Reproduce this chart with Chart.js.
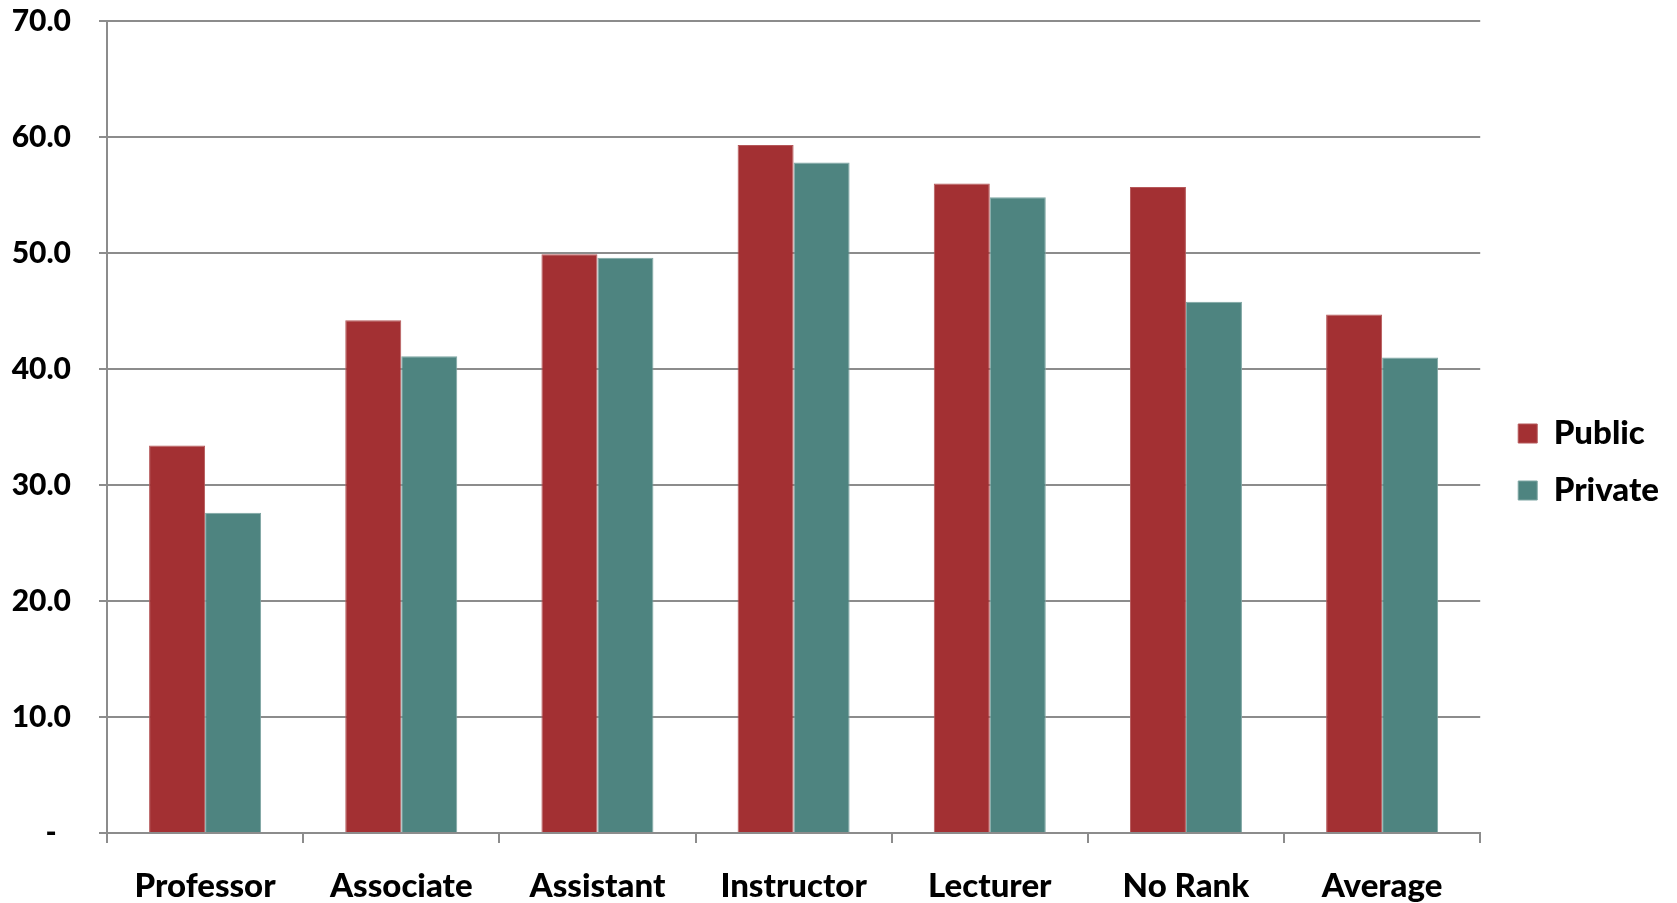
<!DOCTYPE html>
<html>
<head>
<meta charset="utf-8">
<script src="https://cdn.jsdelivr.net/npm/chart.js@4.4.1/dist/chart.umd.min.js"></script>
<style>
  html, body { margin: 0; padding: 0; background: #fff; }
  #wrap { width: 1677px; height: 903px; }
</style>
</head>
<body>
<div id="wrap"><canvas id="chart" width="1677" height="903"></canvas></div>
<script>
// data
const categories = ['Professor', 'Associate', 'Assistant', 'Instructor', 'Lecturer', 'No Rank', 'Average'];
const publicVals = [33.4, 44.2, 49.9, 59.3, 56.0, 55.7, 44.7];
const privateVals = [27.6, 41.1, 49.6, 57.8, 54.8, 45.8, 41.0];
const yTicks = [0, 10, 20, 30, 40, 50, 60, 70];

const FAMILY = 'Lato, "Open Sans", sans-serif';
const GRID = '#8c8c8c';

// widen the legend box so the plot ends where the reference does,
// then nudge the legend items to the right
const legendGap = {
  id: 'legendGap',
  beforeUpdate(chart) {
    const lg = chart.legend;
    if (lg && !lg._widened) {
      const fit = lg.fit.bind(lg);
      lg.fit = function () { fit(); this.width += 12; };
      lg._widened = true;
    }
  },
  afterLayout(chart) {
    const lg = chart.legend;
    if (lg) { lg.left += 14; lg.right += 14; }
  }
};

new Chart(document.getElementById('chart'), {
  type: 'bar',
  data: {
    labels: categories,
    datasets: [
      { label: 'Public', data: publicVals, backgroundColor: '#a33033', borderColor: '#b5585a', borderWidth: 1 },
      { label: 'Private', data: privateVals, backgroundColor: '#4e8480', borderColor: '#7ea6a3', borderWidth: 1 }
    ]
  },
  options: {
    responsive: false,
    animation: false,
    datasets: { bar: { barPercentage: 1.0, categoryPercentage: 0.571 } },
    layout: { padding: { top: 21, right: 10, left: 0, bottom: 0 } },
    scales: {
      x: {
        grid: { drawOnChartArea: false, drawTicks: true, tickLength: 10, color: GRID, lineWidth: 2 },
        border: { color: GRID, width: 2 },
        ticks: { color: '#000', font: { family: FAMILY, size: 33, weight: 900 }, padding: 24 },
        afterFit(s) { s.height = 70; }
      },
      y: {
        min: 0, max: 70,
        afterBuildTicks(s) { s.ticks = yTicks.map(v => ({ value: v })); },
        grid: { color: GRID, lineWidth: 2, tickLength: 8 },
        border: { color: GRID, width: 2 },
        ticks: {
          color: '#000', font: { family: FAMILY, size: 30, weight: 900 }, padding: 28,
          callback: v => v === 0 ? '-  ' : v.toFixed(1)
        },
        afterFit(s) { s.width = 107; s.paddingTop = 0; s.paddingBottom = 0; }
      }
    },
    plugins: {
      legend: {
        position: 'right',
        labels: { color: '#000', font: { family: FAMILY, size: 33, weight: 900 }, boxWidth: 19, boxHeight: 19, padding: 24 }
      },
      tooltip: { enabled: false }
    }
  },
  plugins: [legendGap]
});
</script>
</body>
</html>
